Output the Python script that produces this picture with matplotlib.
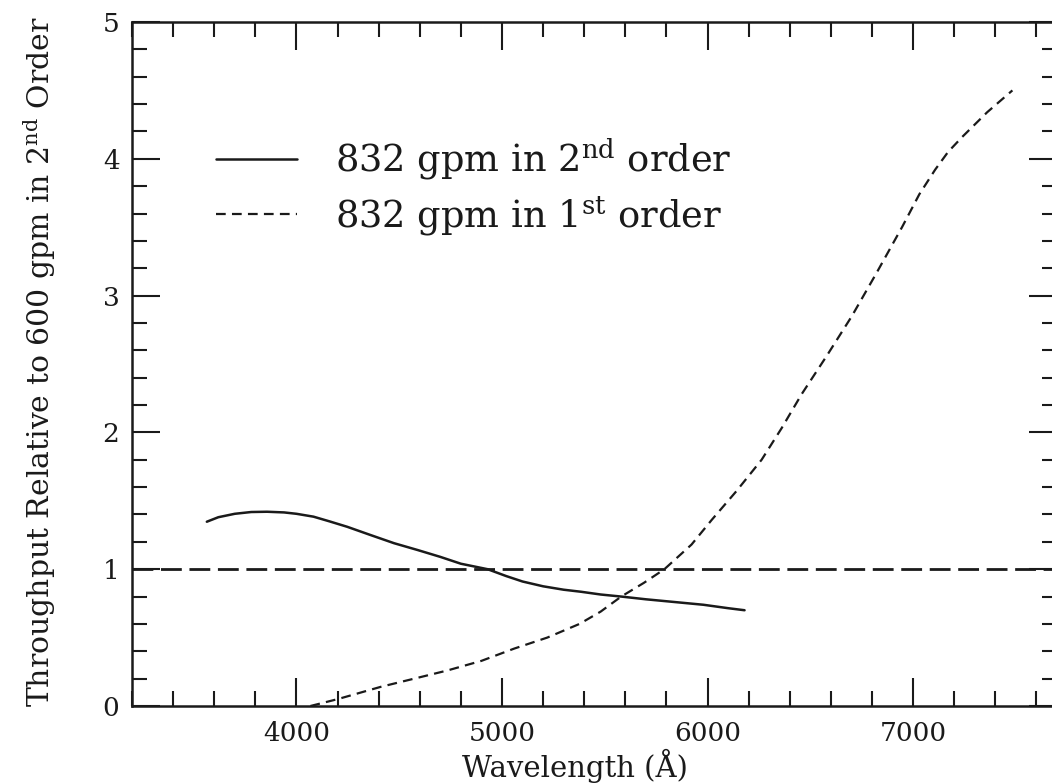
import matplotlib
matplotlib.use("Agg")
import matplotlib.pyplot as plt
from matplotlib.ticker import MultipleLocator

plt.rcParams['font.family'] = ['DejaVu Serif']
plt.rcParams['mathtext.fontset'] = 'dejavuserif'
plt.rcParams['lines.scale_dashes'] = False

# 832 gpm in 2nd order
wl_2nd = [3564, 3620, 3700, 3780, 3857, 3940, 4000, 4083, 4160, 4247, 4360, 4475, 4590,
          4700, 4800, 4930, 5020, 5100, 5200, 5300, 5385, 5480, 5580, 5700, 5840, 5980, 6100, 6180]
thr_2nd = [1.347, 1.38, 1.405, 1.418, 1.42, 1.415, 1.405, 1.384, 1.35, 1.31, 1.25, 1.19, 1.14,
           1.09, 1.04, 1.00, 0.95, 0.91, 0.875, 0.85, 0.835, 0.815, 0.80, 0.78, 0.76, 0.74, 0.715, 0.70]

# 832 gpm in 1st order
wl_1st = [4068, 4200, 4410, 4600, 4735, 4900, 5060, 5220, 5377, 5480, 5580, 5690, 5790, 5922,
          6020, 6140, 6263, 6360, 6458, 6580, 6702, 6820, 6946, 7030, 7107, 7170, 7239, 7360, 7483]
thr_1st = [0.0, 0.05, 0.14, 0.21, 0.26, 0.33, 0.42, 0.50, 0.60, 0.69, 0.80, 0.90, 1.00, 1.18,
           1.36, 1.57, 1.80, 2.03, 2.28, 2.56, 2.85, 3.16, 3.50, 3.74, 3.92, 4.05, 4.16, 4.34, 4.50]

ref_level = 1.0
xlim = (3200, 7700)
ylim = (0, 5)
xticks = [4000, 5000, 6000, 7000]
yticks = [0, 1, 2, 3, 4, 5]
labels = ["832 gpm in $2^{\\mathrm{nd}}$ order", "832 gpm in $1^{\\mathrm{st}}$ order"]

ink = '#1a1a1a'
fig = plt.figure(figsize=(10.52, 7.83), dpi=100)
ax = fig.add_axes([132/1052, 1-706/783, (1057-132)/1052, (706-22)/783])

ax.plot(wl_2nd, thr_2nd, color=ink, lw=1.8, label=labels[0], solid_capstyle='round',
        solid_joinstyle='round')
ax.plot(wl_1st, thr_1st, color=ink, lw=1.6, linestyle=(0, (7, 4.5)), label=labels[1])
ax.axhline(ref_level, color=ink, lw=2.0, linestyle=(0, (15, 5.5)))

ax.set_xlim(*xlim)
ax.set_ylim(*ylim)
ax.set_xticks(xticks)
ax.set_yticks(yticks)
ax.xaxis.set_minor_locator(MultipleLocator(200))
ax.yaxis.set_minor_locator(MultipleLocator(0.2))
ax.tick_params(which='both', direction='in', top=True, right=True, width=1.5, colors=ink)
ax.tick_params(which='major', length=20, labelsize=19, pad=11)
ax.tick_params(which='minor', length=10.5)
ax.tick_params(axis='y', which='major', pad=9)
for s in ax.spines.values():
    s.set_linewidth(1.8)
    s.set_color(ink)

ax.set_xlabel("Wavelength (Å)", fontsize=21, color=ink)
ax.xaxis.set_label_coords((575-132)/925, -(749-706)/684)
ax.set_ylabel("Throughput Relative to 600 gpm in $2^{\\mathrm{nd}}$ Order", fontsize=21.5, color=ink)
ax.yaxis.set_label_coords((58-132)/925, (706-362)/684)

leg = ax.legend(loc='upper left', bbox_to_anchor=(0.075, 0.854), frameon=False, fontsize=26.5,
                handlelength=2.2, handletextpad=1.03, labelspacing=0.32, borderaxespad=0)
for t in leg.get_texts():
    t.set_color(ink)

fig.savefig("out.png", dpi=100)
